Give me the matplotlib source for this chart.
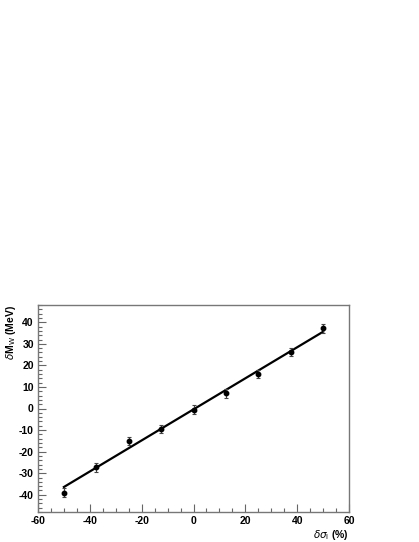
import matplotlib
matplotlib.use("Agg")
import matplotlib.pyplot as plt
from matplotlib.ticker import MultipleLocator
import numpy as np

x_vals = [-50, -37.5, -25, -12.5, 0, 12.5, 25, 37.5, 50]
y_vals = [-39, -27.3, -15, -9.5, -0.6, 7, 16, 26.2, 37.2]
y_err = [2, 2, 2, 2, 2, 2, 2, 2, 2]
fit_slope = 0.72
fit_intercept = -0.4
fit_range = [-50, 50]

plt.rcParams['font.family'] = ['Liberation Sans', 'DejaVu Sans']
plt.rcParams['axes.unicode_minus'] = False
fig = plt.figure(figsize=(4.19, 5.42), dpi=100)
ax = fig.add_axes([38/419, 1-512/542, (349-38)/419, (512-305)/542])

fx = np.array(fit_range)
ax.plot(fx, fit_slope*fx + fit_intercept, color='black', lw=1.6)
ax.errorbar(x_vals, y_vals, yerr=y_err, fmt='o', ms=3.2, color='black',
            ecolor='#444444', elinewidth=0.8, capsize=1.2, capthick=0.8)

ax.set_xlim(-60, 60)
ax.set_ylim(-48, 48)
ax.xaxis.set_major_locator(MultipleLocator(20))
ax.xaxis.set_minor_locator(MultipleLocator(5))
ax.yaxis.set_major_locator(MultipleLocator(10))
ax.yaxis.set_minor_locator(MultipleLocator(2))
ax.tick_params(which='both', direction='in', top=False, right=False, color='#666666')
ax.tick_params(which='major', length=6, width=0.8, labelsize=7.5, pad=3)
ax.tick_params(which='minor', length=3, width=0.8)
for lab in ax.get_xticklabels() + ax.get_yticklabels():
    lab.set_fontweight('bold')
for s in ax.spines.values():
    s.set_color('#777777')
    s.set_linewidth(1.0)

ax.text(1.0, -0.075, r'$\delta\sigma_{\rm l}$ (%)', transform=ax.transAxes,
        ha='right', va='top', fontsize=7.5, fontweight='bold')
ax.text(-0.064, 1.0, r'$\delta$M$_{\rm W}$ (MeV)', transform=ax.transAxes,
        ha='right', va='top', rotation=90, fontsize=7.5, fontweight='bold')

fig.savefig('out.png', dpi=100)
